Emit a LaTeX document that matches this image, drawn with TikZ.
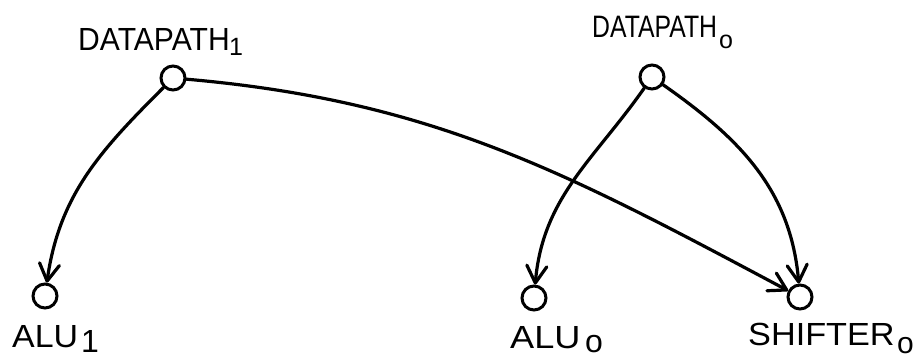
\documentclass[tikz,border=0pt]{standalone}
\usepackage{fontspec}
\setmainfont{Liberation Sans}
\usetikzlibrary{arrows.meta}
\begin{document}
\begin{tikzpicture}[x=1pt,y=1pt,
  vertex/.style={circle,draw,line width=3pt,minimum size=24pt,inner sep=0pt},
  lbl/.style={inner sep=0pt,anchor=base west},
  edge/.style={line width=3.2pt,line cap=round,
    -{Straight Barb[length=17pt,width=20pt,line width=3.2pt,line cap=round,line join=round]}},
  subl/.style={inner sep=0pt,anchor=base west}
]
\useasboundingbox (0,0) rectangle (916,-360);
% vertices
\node[vertex] (d1) at (173,-78) {};
\node[vertex] (d0) at (652,-77) {};
\node[vertex] (a1) at (45,-296) {};
\node[vertex] (a0) at (534,-298) {};
\node[vertex] (s0) at (800,-297) {};
% labels
\node[lbl,font=\fontsize{32}{32}\selectfont] (t1) at (78,-50) {\scalebox{0.94}[1]{DATAPATH}};
\node[subl,font=\fontsize{25}{25}\selectfont] (t1s) at (229,-55) {1};
\node[lbl,font=\fontsize{31}{31}\selectfont] (t0) at (592,-37) {\scalebox{0.8}[1]{DATAPATH}};
\node[subl,font=\fontsize{25}{25}\selectfont] (t0s) at (719,-48) {o};
\node[lbl,font=\fontsize{32}{32}\selectfont] (ta1) at (12,-347) {\scalebox{1.06}[1]{ALU}};
\node[subl,font=\fontsize{32}{32}\selectfont] (ta1s) at (81,-352) {1};
\node[lbl,font=\fontsize{32}{32}\selectfont] (ta0) at (510,-348) {\scalebox{1.13}[1]{ALU}};
\node[subl,font=\fontsize{32}{32}\selectfont] (ta0s) at (585,-352) {o};
\node[lbl,font=\fontsize{32}{32}\selectfont] (ts0) at (748,-345) {\scalebox{1.07}[1]{SHIFTER}};
\node[subl,font=\fontsize{30}{30}\selectfont] (ts0s) at (897,-353) {o};
% edges
\draw[edge] (d1) to[out=-135,in=82] (a1);
\draw[edge] (d1) to[out=-5,in=152] (s0);
\draw[edge] (d0) to[out=-125,in=85] (a0);
\draw[edge] (d0) to[out=-35,in=95] (s0);
\end{tikzpicture}
\end{document}
